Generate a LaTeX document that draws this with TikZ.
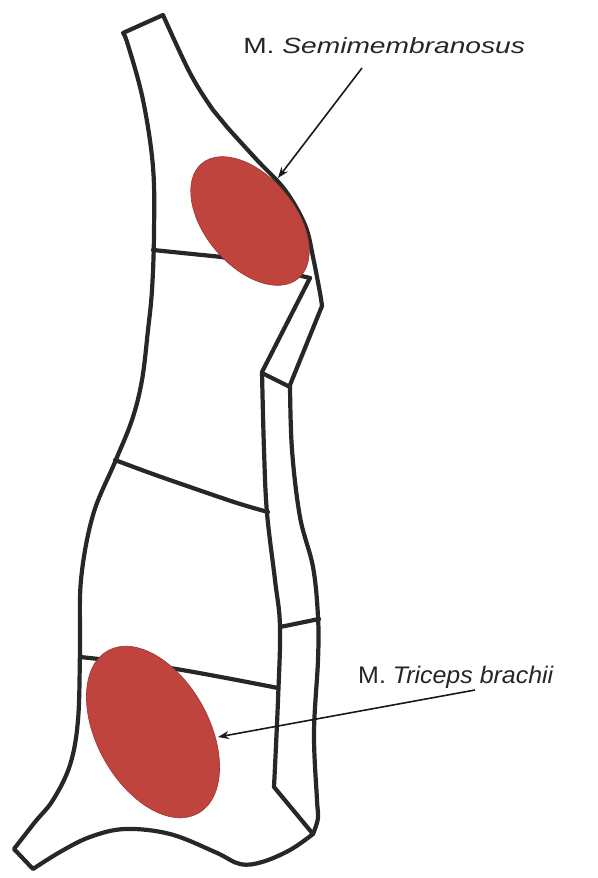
\documentclass[tikz,border=0pt]{standalone}
\usepackage{fontspec}
\setmainfont{Liberation Sans}
\usetikzlibrary{arrows.meta}
\definecolor{pen}{RGB}{38,40,40}
\definecolor{meat}{RGB}{192,68,62}

\begin{document}
\begin{tikzpicture}[x=1pt, y=-1pt,
	outline/.style={draw=pen, line width=4.2pt, line join=round, line cap=round},
	muscle/.style={fill=meat, draw=meat!80!black, line width=0.6pt},
	pointer/.style={draw=black!90, line width=1.6pt, -{Stealth[length=11pt,width=8pt]}},
	musclename/.style={inner sep=0pt, anchor=base west, text=black!85},
]
\useasboundingbox (0,0) rectangle (597,878);

% outer contour of the side
\draw[outline] (123,33) -- (163,15)
	-- plot[smooth, tension=0.6] coordinates {(163,15) (190,73) (213,110) (227,127)
		(257,160) (285,190) (305,225) (313,257) (320,293) (322,306)}
	-- (290,385)
	-- plot[smooth, tension=0.6] coordinates {(290,385) (292,450) (300,517) (313,567)
		(318,617) (318,660) (314,733) (317,800) (318,818) (313,834)}
	-- plot[smooth, tension=0.6] coordinates {(313,834) (290,850) (262,862) (240,864)
		(215,852) (170,834) (125,829) (90,837) (60,852) (33,869)}
	-- (14,849)
	-- plot[smooth, tension=0.6] coordinates {(14,849) (35,822) (53,800) (70,765)
		(78,720) (80,650) (81,580) (93,515) (115,462) (132,420) (142,380)
		(148,330) (152,290) (154,233) (153,167) (143,100) (128,45) (123,33)}
	-- cycle;

% inner strip along the right edge
\draw[outline] (310,278) -- (262,372)
	-- plot[smooth, tension=0.6] coordinates {(262,372) (264,450) (267,513) (275,580)
		(280,627) (278,700) (274,787)}
	-- (313,834);
\draw[outline] (262,373) -- (290,387);
\draw[outline] (280,627) -- (319,619);

% cuts across the side
\draw[outline] (153,250) -- (222,257) -- (310,278);
\draw[outline] plot[smooth, tension=0.6] coordinates {(115,460) (150,473) (190,487) (237,503) (268,512)};
\draw[outline] plot[smooth, tension=0.6] coordinates {(80,657) (170,668) (278,688)};

% muscles
\path[muscle] (250,221) ellipse [x radius=75pt, y radius=45pt, rotate=-50];
\path[muscle] (153,732) ellipse [x radius=93pt, y radius=56pt, rotate=-61];

\coordinate (semitip) at (278,178);
\coordinate (trictip) at (218,737);

\node[musclename, xscale=1.28, font=\fontsize{22}{26}\selectfont] (seminame) at (243,53)
	{M. \textit{Semimembranosus}};
\node[musclename, xscale=1.04, font=\fontsize{24}{28}\selectfont] (tricname) at (358,683)
	{M. \textit{Triceps brachii}};

\draw[pointer] ([shift={(119,15)}]seminame.base west) -- (semitip);
\draw[pointer] ([shift={(117,7)}]tricname.base west) -- (trictip);
\end{tikzpicture}
\end{document}
